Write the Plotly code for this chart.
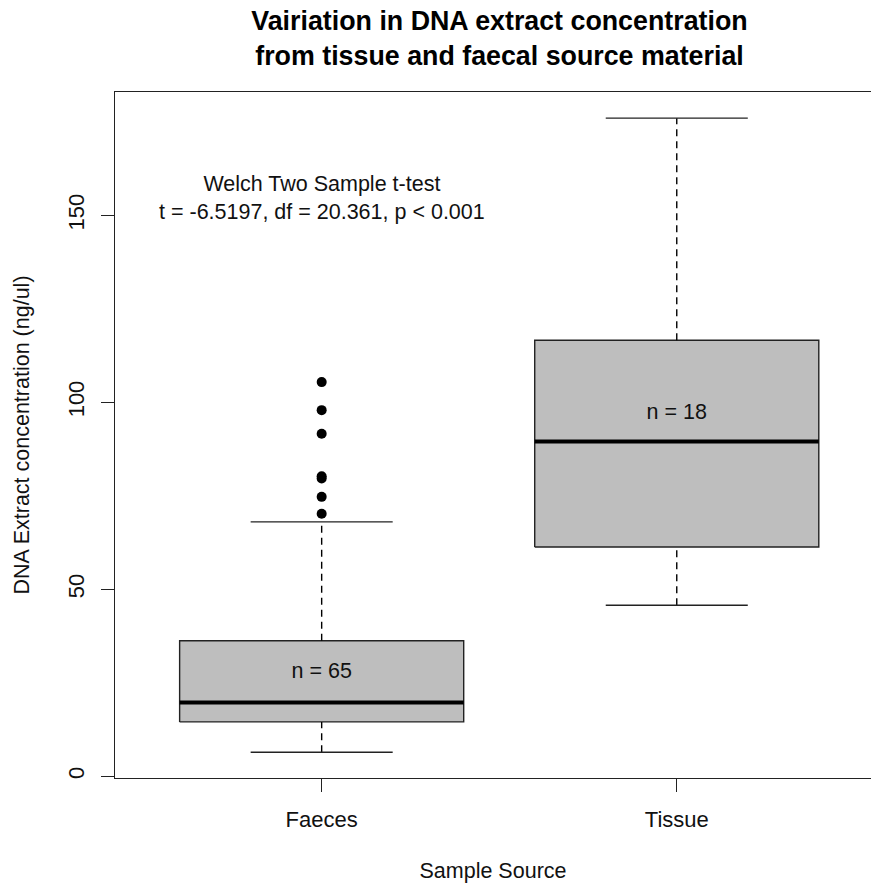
import plotly.graph_objects as go

# ---- data ----
categories = ["Faeces", "Tissue"]
n_obs = [65, 18]
lower_whisker = [6.4, 45.7]
q1 = [14.5, 61.3]
median = [19.7, 89.5]
q3 = [36.2, 116.6]
upper_whisker = [68.0, 176.0]
faeces_outliers = [70.2, 74.7, 79.6, 80.2, 91.6, 97.9, 105.4]
y_ticks = [0, 50, 100, 150]

test_title = "Welch Two Sample t-test"
test_result = "t = -6.5197, df = 20.361, p < 0.001"

FONT = "Liberation Sans, Arial, sans-serif"
FS = 21.5
BOX_HALF = 0.4
CAP_HALF = 0.2
LINE = "#222"

fig = go.Figure()

for i, cat in enumerate(categories):
    xc = i + 1
    # box body
    fig.add_trace(go.Scatter(
        x=[xc - BOX_HALF, xc + BOX_HALF, xc + BOX_HALF, xc - BOX_HALF, xc - BOX_HALF],
        y=[q1[i], q1[i], q3[i], q3[i], q1[i]],
        mode="lines", fill="toself", fillcolor="#bebebe",
        line=dict(color=LINE, width=1.4), hoverinfo="skip", showlegend=False))
    # median
    fig.add_trace(go.Scatter(
        x=[xc - BOX_HALF, xc + BOX_HALF], y=[median[i], median[i]],
        mode="lines", line=dict(color="black", width=4), showlegend=False))
    # whiskers (dashed)
    fig.add_trace(go.Scatter(
        x=[xc, xc, None, xc, xc],
        y=[q3[i], upper_whisker[i], None, lower_whisker[i], q1[i]],
        mode="lines", line=dict(color="black", width=1.4, dash="7px,5px"),
        showlegend=False))
    # caps
    fig.add_trace(go.Scatter(
        x=[xc - CAP_HALF, xc + CAP_HALF, None, xc - CAP_HALF, xc + CAP_HALF],
        y=[upper_whisker[i], upper_whisker[i], None, lower_whisker[i], lower_whisker[i]],
        mode="lines", line=dict(color=LINE, width=1.4), showlegend=False))

# outliers
fig.add_trace(go.Scatter(
    x=[1] * len(faeces_outliers), y=faeces_outliers, mode="markers",
    marker=dict(color="black", size=10), showlegend=False))

# n labels
fig.add_trace(go.Scatter(
    x=[1, 2], y=[27.8, 97.0], mode="text",
    text=[f"n = {n}" for n in n_obs],
    textfont=dict(family=FONT, size=FS, color="#111"), showlegend=False))

# t-test annotation
fig.add_annotation(
    x=1, y=154.6, xref="x", yref="y",
    text=f"{test_title}<br>{test_result}", showarrow=False,
    font=dict(family=FONT, size=FS, color="#111"), align="center")

fig.update_layout(
    width=871, height=883,
    margin=dict(l=115, r=0, t=92, b=105),
    paper_bgcolor="white", plot_bgcolor="white",
    font=dict(family=FONT, size=FS, color="#111"),
    title=dict(
        text="<b>Vairiation in DNA extract concentration<br>from tissue and faecal source material</b>",
        x=499.5 / 871, xanchor="center", xref="container",
        y=1 - 30 / 883, yanchor="middle", yref="container",
        font=dict(family=FONT, size=26.8, color="black")),
    xaxis=dict(
        range=[0.418, 2.547], tickvals=[1, 2], ticktext=categories,
        ticks="outside", ticklen=13, tickwidth=1.4, tickcolor=LINE,
        ticklabelstandoff=8, tickfont=dict(size=22), automargin=False,
        showline=True, linecolor=LINE, linewidth=1.4, mirror=True,
        showgrid=False, zeroline=False,
        title=dict(text="Sample Source", standoff=40, font=dict(size=FS))),
    yaxis=dict(
        range=[-0.5, 183.0], tickvals=y_ticks, tickangle=-90,
        ticks="outside", ticklen=13, tickwidth=1.4, tickcolor=LINE,
        ticklabelstandoff=8, tickfont=dict(size=22), automargin=False,
        showline=True, linecolor=LINE, linewidth=1.4, mirror=False,
        showgrid=False, zeroline=False,
        title=dict(text="DNA Extract concentration (ng/ul)", standoff=28,
                   font=dict(size=FS))),
)

fig.write_html("out.html")
